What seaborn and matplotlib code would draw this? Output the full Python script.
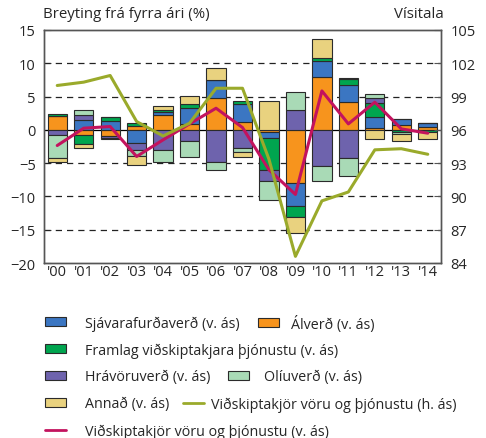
import numpy as np
import pandas as pd
import matplotlib
matplotlib.use("Agg")
import matplotlib.pyplot as plt
from matplotlib.patches import Patch
from matplotlib.lines import Line2D
import seaborn as sns

years = ["'00", "'01", "'02", "'03", "'04", "'05", "'06", "'07",
         "'08", "'09", "'10", "'11", "'12", "'13", "'14"]

alverd = [2.1, -0.8, -0.9, 0.6, 2.25, 0.9, 4.85, 1.2, -0.35, -8.0, 8.0, 4.15, 0.35, 0.7, 0.5]
sjavar = [0.0, 1.45, 1.4, -2.0, 0.5, 2.45, 2.65, 2.7, -0.9, -3.4, 2.4, 2.55, 1.55, 0.9, 0.5]
framlag = [0.35, -1.3, 0.5, 0.4, 0.25, 0.6, 0.0, 0.45, -4.85, -1.7, 0.45, 0.9, 2.1, -0.3, -0.25]
hravoru = [-0.8, 0.75, -0.3, -1.1, -3.1, -1.65, -4.9, -2.7, -1.55, 3.0, -5.45, -4.25, 0.75, 0.0, 0.0]
oliu = [-3.45, 0.85, 0.0, -0.8, -1.8, -2.45, -1.1, -0.6, -2.85, 2.75, -2.2, -2.75, 0.6, -0.25, 0.0]
annad = [-0.65, -0.65, -0.1, -1.35, 0.6, 1.1, 1.75, -0.85, 4.4, -2.4, 2.75, 0.25, -1.3, -1.1, -1.15]

vidskiptakjor_breyting = [-2.35, 0.25, 0.5, -4.0, -1.5, 0.9, 3.25, 0.35, -6.0, -9.7, 5.85, 0.9, 4.15, 0.15, -0.5]
vidskiptakjor_visitala = [100.0, 100.3, 100.9, 96.75, 95.45, 96.6, 99.75, 99.75, 93.35, 84.6, 89.6, 90.4, 94.2, 94.3, 93.8]

series = [
    ("Álverð (v. ás)", alverd, "#F7941D"),
    ("Sjávarafurðaverð (v. ás)", sjavar, "#3B76C2"),
    ("Framlag viðskiptakjara þjónustu (v. ás)", framlag, "#00A54F"),
    ("Hrávöruverð (v. ás)", hravoru, "#6E63AD"),
    ("Olíuverð (v. ás)", oliu, "#A9DAB6"),
    ("Annað (v. ás)", annad, "#E9D27F"),
]
olive = "#9AAA2B"
magenta = "#C3135E"

sns.set_style("white")
plt.rcParams["font.family"] = ["Open Sans", "DejaVu Sans"]
plt.rcParams["font.size"] = 10

W, H = 486, 439
fig = plt.figure(figsize=(W / 100, H / 100), dpi=100)
ax = fig.add_axes([44 / W, 1 - 264 / H, 397 / W, 233 / H])

x = np.arange(len(years))
pos_base = np.zeros(len(years))
neg_base = np.zeros(len(years))
for name, vals, col in series:
    v = np.array(vals, dtype=float)
    bottom = np.where(v >= 0, pos_base, neg_base)
    ax.bar(x, v, bottom=bottom, width=0.73, color=col, edgecolor="#2b2b2b",
           linewidth=0.8, zorder=3)
    pos_base += np.where(v >= 0, v, 0)
    neg_base += np.where(v < 0, v, 0)

df = pd.DataFrame({"x": x, "breyting": vidskiptakjor_breyting, "visitala": vidskiptakjor_visitala})
sns.lineplot(data=df, x="x", y="breyting", color=magenta, lw=2.2, ax=ax, zorder=4)

ax.set_xlim(-0.5, len(years) - 0.5)
ax.set_ylim(-20, 15)
ax.set_yticks(np.arange(-20, 16, 5))
for yv in [-15, -10, -5, 5, 10]:
    ax.axhline(yv, color="#222222", lw=0.9, ls=(0, (5, 4)), zorder=1)
ax.axhline(0, color="black", lw=0.9, zorder=2)
ax.set_xticks(x)
ax.set_xticklabels(years, fontsize=10.5)
ax.set_xticks(np.arange(-0.5, len(years), 1), minor=True)
ax.tick_params(axis="x", which="major", length=0, pad=1)
ax.tick_params(axis="x", which="minor", direction="in", length=4, color="#555555")
ax.tick_params(axis="y", direction="in", length=5, color="#555555", pad=6, labelsize=10.5)
ax.set_xlabel("")
ax.set_ylabel("")

ax2 = ax.twinx()
sns.lineplot(data=df, x="x", y="visitala", color=olive, lw=2.2, ax=ax2, zorder=5)
ax2.set_ylim(84, 105)
ax2.set_yticks(np.arange(84, 106, 3))
ax2.tick_params(axis="y", direction="in", length=5, color="#555555", pad=7, labelsize=10.5)
ax2.set_ylabel("")
ax2.set_xlim(-0.5, len(years) - 0.5)

for a in (ax, ax2):
    for s in a.spines.values():
        s.set_color("#555555")
        s.set_linewidth(1.0)

fig.text(43 / W, 1 - 15 / H, "Breyting frá fyrra ári (%)", ha="left", va="center", fontsize=10.8)
fig.text(444 / W, 1 - 15 / H, "Vísitala", ha="right", va="center", fontsize=10.8)

colors = {name: col for name, _, col in series}


def item(handle, label, xpx, ypx, pad):
    fig.legend(handles=[handle], labels=[label], loc="center left",
               bbox_to_anchor=(xpx / W, 1 - ypx / H), frameon=False,
               borderpad=0, borderaxespad=0, handlelength=1.5, handleheight=0.55,
               handletextpad=pad, fontsize=10.3)


def box(name):
    return Patch(facecolor=colors[name], edgecolor="#2b2b2b", linewidth=0.8)


item(box("Sjávarafurðaverð (v. ás)"), "Sjávarafurðaverð (v. ás)", 45, 324, 1.3)
item(box("Álverð (v. ás)"), "Álverð (v. ás)", 258, 324, 0.8)
item(box("Framlag viðskiptakjara þjónustu (v. ás)"), "Framlag viðskiptakjara þjónustu (v. ás)", 45, 351, 1.3)
item(box("Hrávöruverð (v. ás)"), "Hrávöruverð (v. ás)", 45, 378, 1.3)
item(box("Olíuverð (v. ás)"), "Olíuverð (v. ás)", 228, 378, 1.05)
item(box("Annað (v. ás)"), "Annað (v. ás)", 45, 405, 1.3)
item(Line2D([], [], color=olive, lw=2), "Viðskiptakjör vöru og þjónustu (h. ás)", 183, 405, 0.45)
item(Line2D([], [], color=magenta, lw=2), "Viðskiptakjör vöru og þjónustu (v. ás)", 45, 432, 1.3)

fig.savefig("out.png", dpi=100)
